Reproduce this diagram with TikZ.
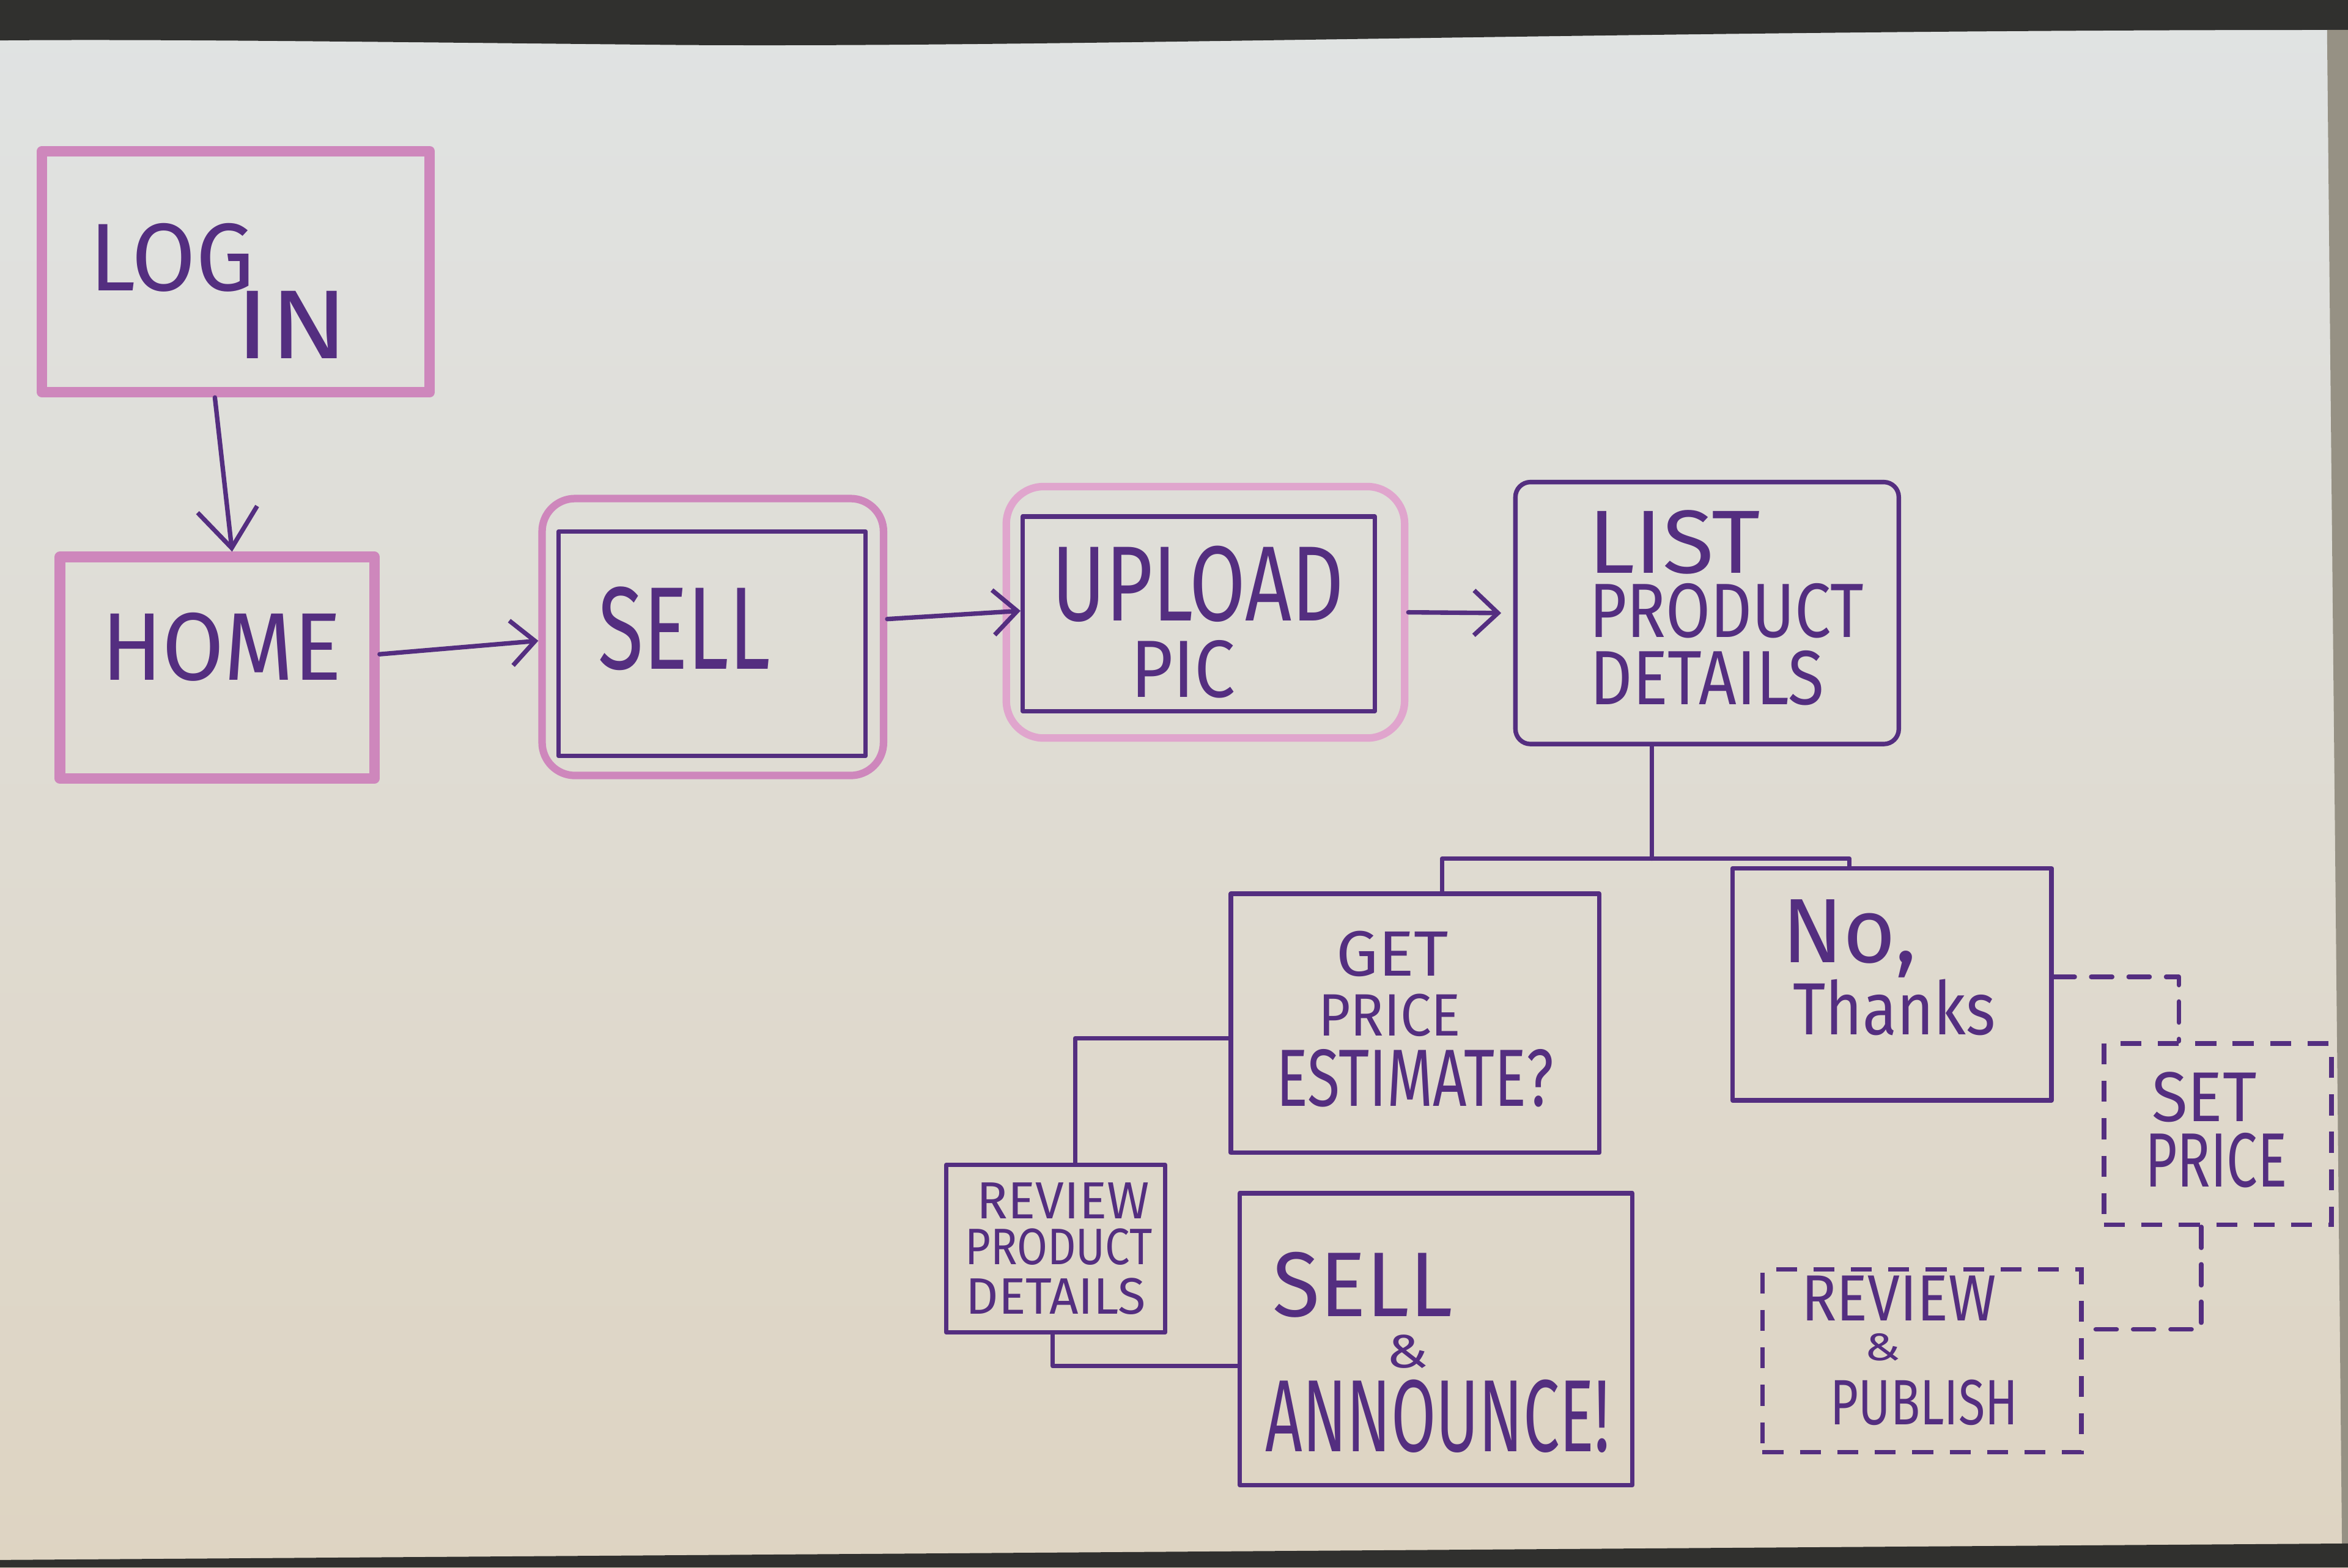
\documentclass[tikz,border=0pt]{standalone}
\usepackage{fontspec}
\usepackage{graphicx}
\newfontfamily\handfont{Fira Sans}
\usetikzlibrary{arrows.meta}
\definecolor{ink}{RGB}{84,46,128}
\definecolor{hl}{RGB}{206,135,188}
\definecolor{hlsoft}{RGB}{224,165,205}
\definecolor{boardtop}{RGB}{224,227,227}
\definecolor{boardmid}{RGB}{230,228,222}
\definecolor{boardbot}{RGB}{222,212,194}
\definecolor{frame}{RGB}{48,48,46}
\definecolor{edge}{RGB}{150,145,132}
\newcommand\hwtext[3]{\resizebox{#2pt}{#1pt}{\handfont #3}}
\tikzset{
  inkbox/.style={draw=ink, line width=3pt, line join=round},
  pinkbox/.style={draw=hl, line width=7pt, line join=round},
  pinkround/.style={draw=hl, line width=5pt, rounded corners=22pt},
  softround/.style={draw=hlsoft, line width=5pt, rounded corners=25pt},
  dashbox/.style={draw=ink, line width=3pt, dash pattern=on 14pt off 11pt},
  lbl/.style={text=ink, inner sep=0pt},
  conn/.style={draw=ink, line width=3pt, line join=round, line cap=round},
  dashconn/.style={conn, dash pattern=on 14pt off 11pt},
  arr/.style={conn, -{Straight Barb[length=16pt,width=30pt]}},
}
\begin{document}
\begin{tikzpicture}[x=1pt,y=-1pt]
\useasboundingbox (0,0) rectangle (1568,1047);
% board
\fill[top color=boardtop, middle color=boardmid, bottom color=boardbot] (0,0) rectangle (1568,1047);
\fill[frame] (0,0) -- (1568,0) -- (1568,20) -- (1555,20) .. controls (1100,20) and (700,32) .. (450,30) .. controls (250,28) and (100,26) .. (0,27) -- cycle;
\fill[edge] (1554,20) -- (1568,20) -- (1568,1035) -- (1564,1035) -- cycle;
\fill[frame] (0,1042) -- (1568,1031) -- (1568,1047) -- (0,1047) -- cycle;

% nodes
\node[pinkbox, minimum width=259pt, minimum height=161pt,
  label={[lbl,xshift=-42.5pt,yshift=9.5pt]center:\hwtext{45}{110}{LOG}},
  label={[lbl,xshift=37.5pt,yshift=-35.5pt]center:\hwtext{45}{75}{IN}}] (login) at (157.5,181.5) {};
\node[pinkbox, minimum width=210pt, minimum height=148pt,
  label={[lbl,xshift=3pt,yshift=14pt]center:\hwtext{45}{160}{HOME}}] (home) at (145,446) {};
\node[pinkround, minimum width=228pt, minimum height=185pt] (sellout) at (476,425.5) {};
\node[inkbox, minimum width=205pt, minimum height=150pt,
  label={[lbl,xshift=-18.5pt,yshift=10pt]center:\hwtext{55}{115}{SELL}}] (sell) at (475.5,430) {};
\node[softround, minimum width=266pt, minimum height=168pt] (uploadout) at (805,409) {};
\node[inkbox, minimum width=235pt, minimum height=130pt,
  label={[lbl,xshift=-0.5pt,yshift=20pt]center:\hwtext{50}{195}{UPLOAD}},
  label={[lbl,xshift=-10.5pt,yshift=-37pt]center:\hwtext{38}{70}{PIC}}] (upload) at (800.5,410) {};
\node[inkbox, rounded corners=10pt, minimum width=256pt, minimum height=175pt,
  label={[lbl,xshift=-22pt,yshift=47.5pt]center:\hwtext{42}{115}{LIST}},
  label={[lbl,xshift=13pt,yshift=1.5pt]center:\hwtext{36}{183}{PRODUCT}},
  label={[lbl,xshift=0pt,yshift=-43.5pt]center:\hwtext{36}{156}{DETAILS}}] (list) at (1140,409.5) {};
\node[inkbox, minimum width=246pt, minimum height=173pt,
  label={[lbl,xshift=-15pt,yshift=46.5pt]center:\hwtext{30}{75}{GET}},
  label={[lbl,xshift=-17pt,yshift=5.5pt]center:\hwtext{28}{95}{PRICE}},
  label={[lbl,xshift=0pt,yshift=-36.5pt]center:\hwtext{38}{185}{ESTIMATE?}}] (getprice) at (945,683.5) {};
\node[inkbox, minimum width=213pt, minimum height=155pt,
  label={[lbl,xshift=-28.5pt,yshift=30.5pt]center:\hwtext{42}{90}{No,}},
  label={[lbl,xshift=1.5pt,yshift=-15.5pt]center:\hwtext{37}{135}{Thanks}}] (nothanks) at (1263.5,657.5) {};
\node[inkbox, minimum width=146pt, minimum height=112pt,
  label={[lbl,xshift=5pt,yshift=32pt]center:\hwtext{24}{115}{REVIEW}},
  label={[lbl,xshift=2pt,yshift=1pt]center:\hwtext{24}{125}{PRODUCT}},
  label={[lbl,xshift=0pt,yshift=-32pt]center:\hwtext{24}{120}{DETAILS}}] (reviewpd) at (705,834) {};
\node[inkbox, minimum width=262pt, minimum height=195pt,
  label={[lbl,xshift=-49pt,yshift=36.5pt]center:\hwtext{43}{120}{SELL}},
  label={[lbl,xshift=-19pt,yshift=-8.5pt]center:\hwtext{22}{28}{\&}},
  label={[lbl,xshift=1pt,yshift=-51.5pt]center:\hwtext{48}{230}{ANNOUNCE!}}] (sellann) at (959,894.5) {};
\node[dashbox, minimum width=152pt, minimum height=121pt,
  label={[lbl,xshift=-9pt,yshift=24.5pt]center:\hwtext{33}{70}{SET}},
  label={[lbl,xshift=-1pt,yshift=-17.5pt]center:\hwtext{36}{95}{PRICE}}] (setprice) at (1481,757.5) {};
\node[dashbox, minimum width=213pt, minimum height=122pt,
  label={[lbl,xshift=-15.5pt,yshift=42pt]center:\hwtext{30}{130}{REVIEW}},
  label={[lbl,xshift=-26.5pt,yshift=9pt]center:\hwtext{18}{24}{\&}},
  label={[lbl,xshift=1.5pt,yshift=-28pt]center:\hwtext{30}{125}{PUBLISH}}] (reviewpub) at (1283.5,909) {};

% connectors
\draw[arr, -{Straight Barb[length=26pt,width=40pt]}] ([xshift=-14pt]login.south) -- ([xshift=10pt]home.north);
\draw[arr] ([yshift=9pt]home.east) -- ([yshift=-2.5pt]sellout.west);
\draw[arr] ([yshift=12pt]sellout.east) -- ([yshift=2pt]upload.west);
\draw[arr] (uploadout.east) -- ([xshift=-8pt]list.west);
\draw[conn] ([xshift=-37pt]list.south) -- ++(0,75) coordinate (j);
\draw[conn] ([xshift=18pt]getprice.north) |- (j) -| ([xshift=-28.5pt]nothanks.north);
\draw[conn] ([yshift=-10pt]getprice.west) -| ([xshift=13pt]reviewpd.north);
\draw[conn] ([xshift=-2pt]reviewpd.south) |- ([yshift=-18pt]sellann.west);
\draw[dashconn] ([yshift=5pt]nothanks.east) -| ([xshift=-26pt]setprice.north);
\draw[dashconn] ([xshift=-11pt]setprice.south) |- ([yshift=21pt]reviewpub.east);
\end{tikzpicture}
\end{document}
